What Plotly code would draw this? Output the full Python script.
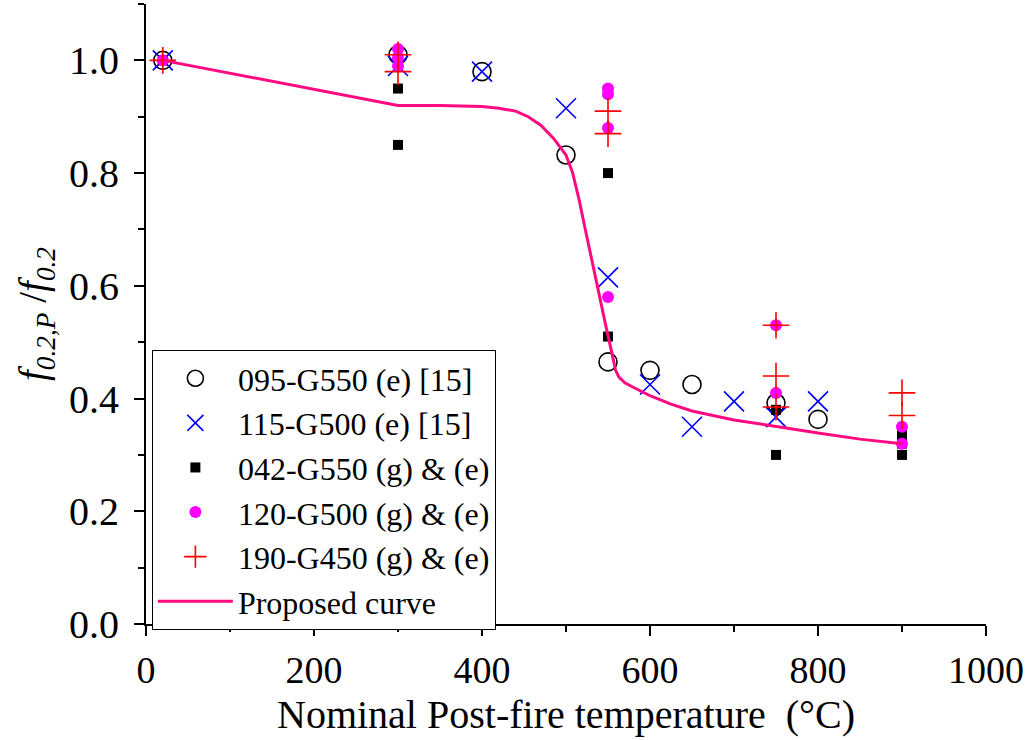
import plotly.graph_objects as go

# --- data ---
c095_T = [20, 300, 400, 500, 550, 600, 650, 750, 800]
c095_r = [1.0, 1.01, 0.98, 0.832, 0.465, 0.45, 0.425, 0.392, 0.363]

x115_T = [20, 300, 400, 500, 550, 600, 650, 700, 750, 800]
x115_r = [1.0, 0.99, 0.98, 0.915, 0.615, 0.425, 0.35, 0.395, 0.367, 0.395]

s042_T = [20, 300, 300, 550, 550, 750, 750, 900, 900, 900]
s042_r = [1.0, 0.95, 0.85, 0.80, 0.51, 0.38, 0.30, 0.335, 0.32, 0.30]

d120_T = [20, 300, 300, 300, 550, 550, 550, 550, 750, 750, 900, 900]
d120_r = [1.0, 1.02, 1.005, 0.99, 0.95, 0.94, 0.88, 0.58, 0.53, 0.41, 0.35, 0.32]

p190_T = [20, 300, 300, 550, 550, 750, 750, 750, 900, 900]
p190_r = [1.0, 1.01, 0.98, 0.91, 0.87, 0.53, 0.44, 0.385, 0.41, 0.37]

curve_T = [20, 300, 350, 400, 420, 440, 455, 470, 485, 500, 508, 516, 523, 530, 536,
           542, 548, 554, 559, 563, 570, 580, 600, 625, 650, 700, 750, 800, 850, 900]
curve_r = [1.0, 0.92, 0.92, 0.918, 0.915, 0.91, 0.90, 0.885, 0.862, 0.832, 0.80, 0.75,
           0.70, 0.65, 0.605, 0.565, 0.525, 0.485, 0.45, 0.438, 0.428, 0.42, 0.405,
           0.39, 0.378, 0.362, 0.35, 0.339, 0.328, 0.32]

x_ticks = [0, 200, 400, 600, 800, 1000]
y_ticks = [0.0, 0.2, 0.4, 0.6, 0.8, 1.0]
x_title = "Nominal Post-fire temperature  (°C)"
y_title = "<i>f</i><sub><i>0.2,P</i></sub> /<i>f</i><sub><i>0.2</i></sub>"

FONT = "Liberation Serif, Times New Roman, serif"

fig = go.Figure()
fig.add_trace(go.Scatter(x=c095_T, y=c095_r, mode="markers", name="095-G550 (e) [15]",
                         marker=dict(symbol="circle-open", size=18, color="black",
                                     line=dict(width=1.6, color="black"))))
fig.add_trace(go.Scatter(x=x115_T, y=x115_r, mode="markers", name="115-G500 (e) [15]",
                         marker=dict(symbol="x-thin-open", size=20, color="#0000FF",
                                     line=dict(width=1.6, color="#0000FF"))))
fig.add_trace(go.Scatter(x=s042_T, y=s042_r, mode="markers", name="042-G550 (g) & (e)",
                         marker=dict(symbol="square", size=10, color="black")))
fig.add_trace(go.Scatter(x=d120_T, y=d120_r, mode="markers", name="120-G500 (g) & (e)",
                         marker=dict(symbol="circle", size=12, color="#FF00FF")))
fig.add_trace(go.Scatter(x=p190_T, y=p190_r, mode="markers", name="190-G450 (g) & (e)",
                         marker=dict(symbol="cross-thin-open", size=19, color="#FF0000",
                                     line=dict(width=1.6, color="#FF0000"))))
fig.add_trace(go.Scatter(x=curve_T, y=curve_r, mode="lines", name="Proposed curve",
                         line=dict(color="#FF0A80", width=3)))

fig.update_layout(
    width=1035, height=740,
    margin=dict(l=146, r=49, t=4, b=116),
    paper_bgcolor="white", plot_bgcolor="white",
    font=dict(family=FONT, size=30, color="black"),
    showlegend=True,
    legend=dict(x=0.007, y=0.442, xanchor="left", yanchor="top",
                bgcolor="white", bordercolor="black", borderwidth=1,
                font=dict(family=FONT, size=32, color="black"),
                itemsizing="trace", itemwidth=75, tracegroupgap=0),
)
fig.add_annotation(text=x_title, xref="paper", yref="paper", x=0.5, y=-0.185,
                   xanchor="center", yanchor="bottom", showarrow=False,
                   font=dict(family=FONT, size=40, color="black"))
fig.update_xaxes(range=[0, 1000], tickvals=x_ticks, ticktext=[str(v) for v in x_ticks],
                 showline=True, linecolor="black", linewidth=2, mirror=False,
                 showgrid=False, zeroline=False,
                 ticks="outside", ticklen=10, tickwidth=2, tickcolor="black",
                 minor=dict(dtick=100, ticks="outside", ticklen=6, tickwidth=2, tickcolor="black"),
                 tickfont=dict(family=FONT, size=38), ticklabelstandoff=1)
fig.update_yaxes(range=[0, 1.1], tickvals=y_ticks, ticktext=[f"{v:.1f}" for v in y_ticks],
                 showline=True, linecolor="black", linewidth=2, mirror=False,
                 showgrid=False, zeroline=False,
                 ticks="outside", ticklen=10, tickwidth=2, tickcolor="black",
                 minor=dict(dtick=0.1, ticks="outside", ticklen=6, tickwidth=2, tickcolor="black"),
                 tickfont=dict(family=FONT, size=40), ticklabelstandoff=7,
                 title=dict(text=y_title, font=dict(family=FONT, size=39), standoff=10))

fig.write_html("out.html")
